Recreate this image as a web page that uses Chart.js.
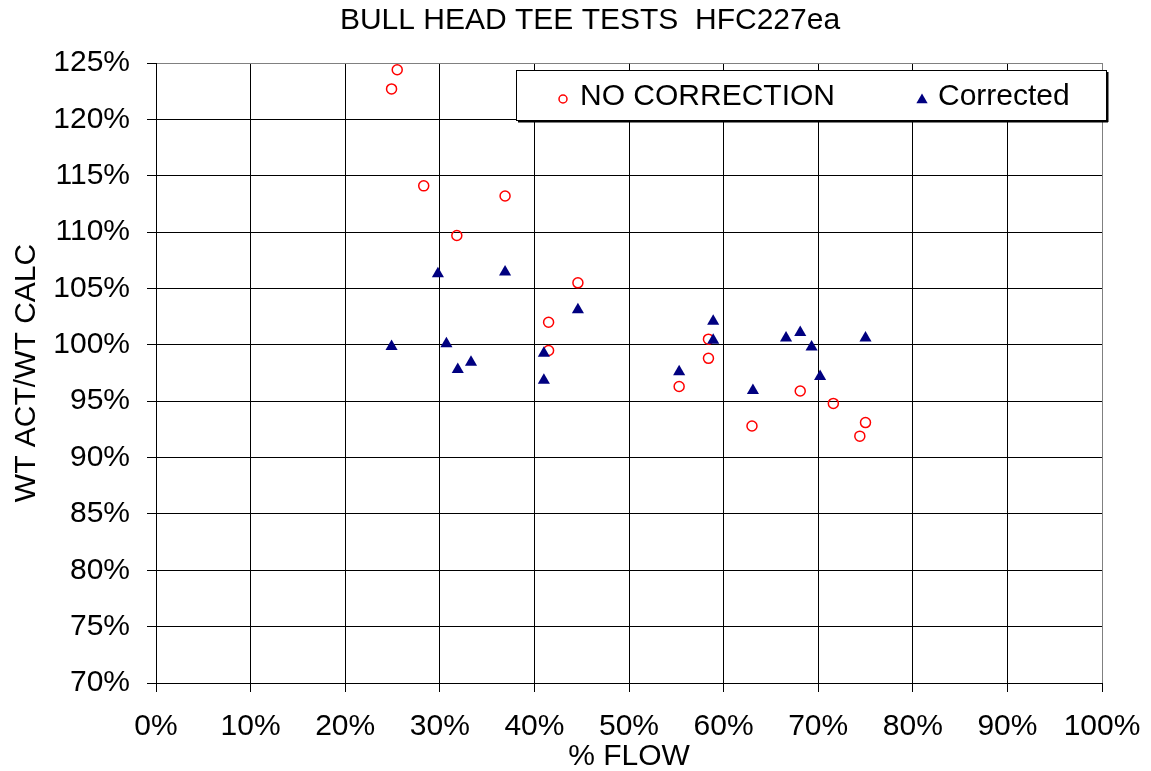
<!DOCTYPE html>
<html>
<head>
<meta charset="utf-8">
<script src="https://cdn.jsdelivr.net/npm/chart.js@4/dist/chart.umd.min.js"></script>
<style>
  html, body { margin: 0; padding: 0; background: #fff; }
  #wrap { width: 1151px; height: 771px; }
</style>
</head>
<body>
<div id="wrap"><canvas id="myChart" width="1151" height="771"></canvas></div>
<script>
const titleText = "BULL HEAD TEE TESTS  HFC227ea"
const xTitle = "% FLOW"
const yTitle = "WT ACT/WT CALC"
const seriesNames = ["NO CORRECTION", "Corrected"]

// % flow / % weight ratio
const noCorrX = [25.5, 24.9, 28.3, 36.9, 31.8, 44.6, 41.5, 41.5, 55.3, 58.4, 58.4, 63.0, 68.1, 71.6, 75.0, 74.4]
const noCorrY = [124.4, 122.7, 114.1, 113.2, 109.7, 105.5, 102.0, 99.5, 96.3, 100.5, 98.8, 92.8, 95.9, 94.8, 93.1, 91.9]

const corrX = [29.8, 36.9, 44.6, 24.9, 30.7, 33.3, 31.9, 41.0, 41.0, 58.9, 58.9, 55.3, 63.1, 66.6, 68.1, 69.3, 70.2, 75.0]
const corrY = [106.3, 106.45, 103.1, 99.85, 100.1, 98.45, 97.8, 99.25, 96.85, 102.1, 100.4, 97.6, 95.95, 100.6, 101.1, 99.8, 97.2, 100.6]

const toPoints = (xs, ys) => xs.map((x, i) => ({x: x, y: ys[i]}))

const FONT = "'Liberation Sans', Arial, sans-serif"

// the original title sits a bit right of the canvas centre
const titleShift = {
  id: "titleShift",
  afterLayout(chart) {
    const t = chart.titleBlock
    if (t) { t.left = 78; t.width = t.right - t.left }
  }
}

// legend box drawn inside the plot, like the spreadsheet original
const boxLegend = {
  id: "boxLegend",
  afterDraw(chart) {
    const ctx = chart.ctx
    const ca = chart.chartArea
    const left = ca.left + 360, top = ca.top + 7, w = 590, h = 50
    ctx.save()
    ctx.fillStyle = "#fff"
    ctx.fillRect(left, top, w, h)
    ctx.strokeStyle = "#000"
    ctx.lineWidth = 1
    ctx.strokeRect(left + 0.5, top + 0.5, w, h)
    ctx.fillStyle = "#000"
    ctx.fillRect(left + w + 1, top + 2, 1.5, h)
    ctx.fillRect(left + 2, top + h + 1, w, 1.5)

    const cy = top + 27
    const ds0 = chart.data.datasets[0]
    ctx.beginPath()
    ctx.arc(left + 47, cy + 2, 4, 0, Math.PI * 2)
    ctx.strokeStyle = ds0.borderColor
    ctx.lineWidth = 1.5
    ctx.stroke()
    const ds1 = chart.data.datasets[1]
    const tx = left + 406, ty = cy + 3, r = 6.5
    ctx.beginPath()
    ctx.moveTo(tx, ty - r)
    ctx.lineTo(tx + r * 0.866, ty + r / 2)
    ctx.lineTo(tx - r * 0.866, ty + r / 2)
    ctx.closePath()
    ctx.fillStyle = ds1.backgroundColor
    ctx.fill()

    ctx.fillStyle = "#000"
    ctx.font = "30px " + FONT
    ctx.textBaseline = "middle"
    ctx.textAlign = "left"
    ctx.fillText(ds0.label, left + 64, cy)
    ctx.fillText(ds1.label, left + 422, cy)
    ctx.restore()
  }
}

new Chart("myChart", {
  type: "scatter",
  data: {
    datasets: [{
      label: seriesNames[0],
      data: toPoints(noCorrX, noCorrY),
      pointStyle: "circle",
      pointRadius: 5,
      pointBorderWidth: 1.5,
      borderColor: "#ff0000",
      backgroundColor: "rgba(255,255,255,0)",
      order: 2
    }, {
      label: seriesNames[1],
      data: toPoints(corrX, corrY),
      pointStyle: "triangle",
      pointRadius: 7,
      pointBorderWidth: 0,
      borderColor: "#000080",
      backgroundColor: "#000080",
      order: 1
    }]
  },
  options: {
    responsive: false,
    animation: false,
    layout: { padding: { left: 0, right: 49, top: 0, bottom: 0 } },
    plugins: {
      legend: { display: false },
      tooltip: { enabled: false },
      title: {
        display: true,
        text: titleText,
        color: "#000",
        font: { family: FONT, size: 30, weight: "normal", lineHeight: 1.2 },
        padding: { top: 3, bottom: 24 }
      }
    },
    scales: {
      x: {
        type: "linear",
        min: 0,
        max: 100,
        ticks: {
          stepSize: 10,
          color: "#000",
          padding: 5,
          font: { family: FONT, size: 30, lineHeight: 2 },
          callback: v => v + "%"
        },
        grid: {
          color: c => c.tick && c.tick.value === 100 ? "#808080" : "#000",
          tickColor: "#000",
          tickLength: 9,
          lineWidth: 1
        },
        border: { color: "#000", width: 1 },
        title: {
          display: true,
          text: xTitle,
          color: "#000",
          font: { family: FONT, size: 30, lineHeight: 1 },
          padding: { top: 0, bottom: -1 }
        },
        afterFit: s => { s.height = 88 }
      },
      y: {
        type: "linear",
        min: 70,
        max: 125,
        ticks: {
          stepSize: 5,
          color: "#000",
          padding: 17,
          font: { family: FONT, size: 30 },
          callback: v => v + "%"
        },
        grid: {
          color: c => c.tick && c.tick.value === 125 ? "#808080" : "#000",
          tickColor: "#000",
          tickLength: 9,
          lineWidth: 1
        },
        border: { color: "#000", width: 1 },
        title: {
          display: true,
          text: yTitle,
          color: "#000",
          font: { family: FONT, size: 30, lineHeight: 1.2 },
          padding: { top: 9, bottom: 0 }
        },
        afterFit: s => { s.width = 156 }
      }
    }
  },
  plugins: [titleShift, boxLegend]
})
</script>
</body>
</html>
